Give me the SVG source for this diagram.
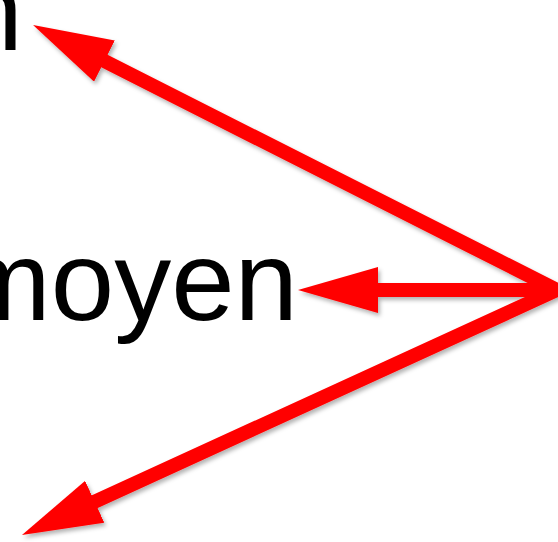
<svg xmlns="http://www.w3.org/2000/svg" width="558" height="542" viewBox="0 0 558 542">
<style>
.lbl{font-family:"Liberation Sans",Arial,sans-serif;font-size:114px;fill:#000;text-anchor:end}
.arr{stroke:#ff0000;stroke-width:14;fill:none;stroke-linecap:round;marker-end:url(#head)}
</style>
<defs>
<marker id="head" markerUnits="userSpaceOnUse" markerWidth="80" markerHeight="46" refX="10" refY="23" orient="auto" viewBox="0 0 80 46">
<path d="M0,0 L80,23 L0,46 Z" fill="#ff0000"/>
</marker>
<filter id="sh" filterUnits="userSpaceOnUse" x="0" y="0" width="558" height="542">
<feDropShadow dx="2" dy="3" stdDeviation="2" flood-color="#000" flood-opacity="0.3"/>
</filter>
</defs>
<rect width="558" height="542" fill="#fff"/>
<g id="n_top"><text class="lbl" x="23" y="50">n</text></g>
<g id="moyen"><text class="lbl" x="298" y="320">moyen</text></g>
<g id="connectors" filter="url(#sh)">
<line class="arr" x1="557" y1="290" x2="95.5" y2="56.6"/>
<line class="arr" x1="557" y1="290" x2="368" y2="290"/>
<line class="arr" x1="557" y1="290" x2="85.6" y2="505.9"/>
</g>
</svg>
